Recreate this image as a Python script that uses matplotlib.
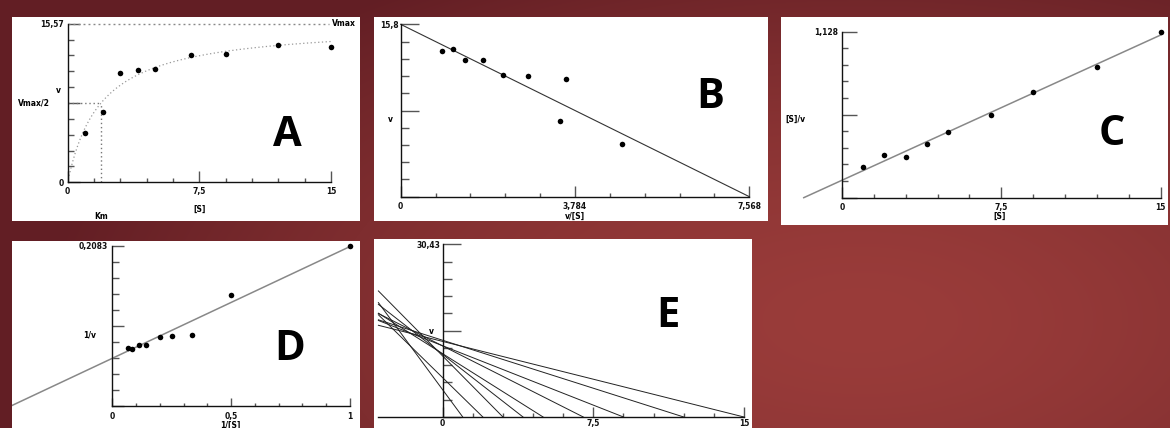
import numpy as np
import matplotlib
matplotlib.use("Agg")
from matplotlib import pyplot as plt

plt.rcParams['font.family'] = ['DejaVu Sans']
plt.rcParams['font.weight'] = 'bold'

# substrate concentration and rate
S = np.array([1, 2, 3, 4, 5, 7, 9, 12, 15])
v = np.array([4.80, 6.93, 10.75, 11.03, 11.15, 12.52, 12.55, 13.52, 13.32])

# constants
vmax_a, km_a = 15.57, 1.9          # Michaelis-Menten
vmax_b, xmax_b = 15.8, 7.568       # Eadie-Hofstee
vmax_c, km_c = 15.2, 1.8           # Hanes-Woolf
ymax_c = 1.128
lb_icpt, lb_slope = 0.0621, 0.1455  # Lineweaver-Burk
ymax_d = 0.2083
ymax_e, xmin_e = 30.43, -3.2       # direct linear plot

W, H = 1170, 428
fig = plt.figure(figsize=(W / 100, H / 100), dpi=100)

# dark red backdrop, lighter towards the middle right
yy, xx = np.mgrid[0:H, 0:W]
r = np.clip(np.sqrt(((xx - 860) / 820.0) ** 2 + ((yy - 320) / 400.0) ** 2), 0, 1)
c0 = np.array([154, 60, 58]) / 255
c1 = np.array([98, 30, 36]) / 255
bg = c0 + (c1 - c0) * (r[..., None] ** 1.6)
back = fig.add_axes([0, 0, 1, 1], zorder=-10)
back.imshow(bg, aspect='auto', interpolation='bilinear')
back.set_axis_off()


def panel(rect, xref, yref):
    # rect in pixels (left, top, right, bottom); refs = two (value, pixel) pairs
    l, t, rr, b = rect
    ax = fig.add_axes([l / W, 1 - b / H, (rr - l) / W, (b - t) / H], zorder=1)
    (d0, p0), (d1, p1) = xref
    k = (d1 - d0) / (p1 - p0)
    ax.set_xlim(d0 + (l - p0) * k, d0 + (rr - p0) * k)
    (d0, p0), (d1, p1) = yref
    k = (d1 - d0) / (p1 - p0)
    ax.set_ylim(d0 + (b - p0) * k, d0 + (t - p0) * k)
    ax.set_facecolor('white')
    ax.spines['top'].set_visible(False)
    ax.spines['right'].set_visible(False)
    ax.spines['left'].set_position(('data', 0))
    ax.spines['bottom'].set_position(('data', 0))
    return ax


def axis_style(ax, xmax, ymax, xlabels, ylabels, xlen, ylen, xpad, ypad, xmin=0):
    ax.spines['left'].set_bounds(0, ymax)
    ax.spines['bottom'].set_bounds(xmin, xmax)
    for s in ['left', 'bottom']:
        ax.spines[s].set_color('#111')
        ax.spines[s].set_linewidth(1.0)
    ax.set_xticks(np.linspace(0, xmax, 11), minor=True)
    ax.set_yticks(np.linspace(0, ymax, 11), minor=True)
    ax.set_xticks([0, xmax / 2, xmax], xlabels)
    ax.set_yticks([0, ymax / 2, ymax], ylabels)
    ax.tick_params(which='both', direction='in', color='#555', width=1.0,
                   labelsize=5.5, labelcolor='#111')
    ax.tick_params(axis='x', which='major', length=xlen[1], pad=xpad)
    ax.tick_params(axis='x', which='minor', length=xlen[0])
    ax.tick_params(axis='y', which='major', length=ylen[1], pad=ypad)
    ax.tick_params(axis='y', which='minor', length=ylen[0])


def big_letter(letter, x, y):
    fig.text(x / W, 1 - (y + 15) / H, letter, fontsize=30, fontweight='bold',
             family='Open Sans', ha='center', va='baseline', color='black', zorder=5)


dots = dict(marker='o', ms=4, color='black', mew=0, ls='none', zorder=5)
fs = 5.5

# ---- A : v against [S]
ax = panel((12, 17.3, 360, 220.7), ((0, 67.67), (15, 331)), ((0, 182.3), (vmax_a, 23.67)))
axis_style(ax, 15, vmax_a, ['0', '7,5', '15'], ['0', '', '15,57'],
           (2.9, 7.7), (4.1, 8.6), 3.4, 3.0)
s_fit = np.linspace(0.08, 15, 300)
ax.plot(s_fit, vmax_a * s_fit / (km_a + s_fit), color='#999', lw=0.9, ls=(0, (1, 2)))
ax.plot([0, 14.9], [vmax_a, vmax_a], color='#888', lw=1, ls=(0, (1.4, 2.2)))
ax.plot([0, km_a], [vmax_a / 2, vmax_a / 2], color='#777', lw=1, ls=(0, (1, 2)))
ax.plot([km_a, km_a], [0, vmax_a / 2], color='#777', lw=1, ls=(0, (1, 2)))
ax.plot(S, v, **dots)
ax.text(-0.55, 0.58 * vmax_a, 'v', fontsize=fs, ha='center', va='center')
ax.text(-1.0, vmax_a / 2, 'Vmax/2', fontsize=fs, ha='right', va='center')
ax.text(15.05, vmax_a, 'Vmax', fontsize=fs, ha='left', va='center')
ax.text(7.5, -2.63, '[S]', fontsize=fs, ha='center', va='center')
ax.text(km_a, -3.35, 'Km', fontsize=fs, ha='center', va='center')
big_letter('A', 287, 131)

# ---- B : v against v/[S]
ax = panel((374.5, 17.3, 768, 220.7), ((0, 400.67), (xmax_b, 749.33)), ((0, 196.67), (vmax_b, 24.33)))
axis_style(ax, xmax_b, vmax_b, ['0', '3,784', '7,568'], ['', '', '15,8'],
           (2.9, 7.7), (6.0, 12.7), 4.1, 1.7)
ax.plot([0, xmax_b], [vmax_b, 0], color='#333', lw=0.8)
ax.plot(v / S, v, **dots)
ax.text(-0.216, 0.445 * vmax_b, 'v', fontsize=fs, ha='center', va='center')
ax.text(xmax_b / 2, -1.85, 'v/[S]', fontsize=fs, ha='center', va='center')
big_letter('B', 710, 93)

# ---- C : [S]/v against [S]
ax = panel((780.5, 17.3, 1168, 225), ((0, 842), (15, 1160.67)), ((0, 197.67), (ymax_c, 31.67)))
axis_style(ax, 15, ymax_c, ['0', '7,5', '15'], ['', '', '1,128'],
           (3.2, 7.9), (4.5, 10.6), 4.1, 2.7)
xc = np.array([-km_c, 15])
ax.plot(xc, (km_c + xc) / vmax_c, color='#888', lw=1.1)
ax.plot(S, S / v, **dots)
ax.text(-1.74, 0.535, '[S]/v', fontsize=fs, ha='right', va='center')
ax.text(7.4, -0.129, '[S]', fontsize=fs, ha='center', va='center')
big_letter('C', 1112, 130)

# ---- D : 1/v against 1/[S]
ax = panel((12, 240.7, 360, 428), ((0, 112.33), (1, 350)), ((0, 406), (ymax_d, 246)))
axis_style(ax, 1, ymax_d, ['0', '0,5', '1'], ['', '', '0,2083'],
           (2.2, 6.0), (4.8, 8.4), 4.6, 2.9)
xd = np.array([-lb_icpt / lb_slope, 1])
ax.plot(xd, lb_icpt + lb_slope * xd, color='#888', lw=1.1)
ax.plot(1 / S, 1 / v, **dots)
ax.text(-0.094, 0.0924, '1/v', fontsize=fs, ha='center', va='center')
ax.text(0.495, -0.0256, '1/[S]', fontsize=fs, ha='center', va='center')
big_letter('D', 290, 345)

# ---- E : direct linear plot
ax = panel((374.5, 239, 752, 428), ((0, 442.67), (15, 744)), ((0, 417), (ymax_e, 244.33)))
axis_style(ax, 15, ymax_e, ['0', '7,5', '15'], ['', '', '30,43'],
           (2.7, 7.4), (6.5, 13.0), 1.5, 1.4, xmin=xmin_e)
for si, vi in zip(S, v):
    xe = np.array([xmin_e, si])
    ax.plot(xe, vi * (1 - xe / si), color='#222', lw=0.7)
ax.text(-0.55, 15.03, 'v', fontsize=fs, ha='center', va='center')
big_letter('E', 668, 312)

fig.savefig('out.png', dpi=100)
